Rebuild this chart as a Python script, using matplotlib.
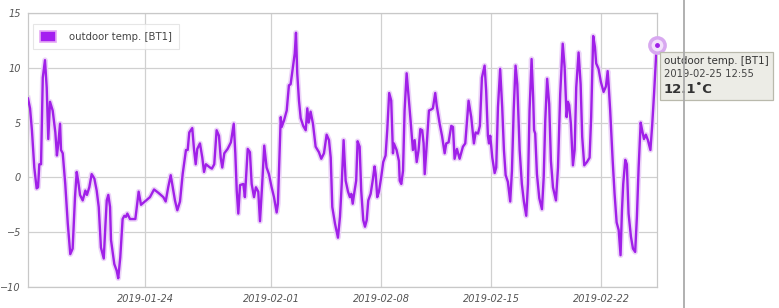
import matplotlib
matplotlib.use("Agg")
import matplotlib.pyplot as plt
import matplotlib.dates as mdates
import numpy as np
import pandas as pd
from matplotlib.lines import Line2D
from matplotlib.patches import Patch
from matplotlib.offsetbox import TextArea, VPacker, AnnotationBbox

# Outdoor temperature log (BT1)
start = "2019-01-16 12:55"
days = [0.00, 0.13, 0.25, 0.40, 0.55, 0.64, 0.72, 0.83, 0.94, 1.08,
        1.19, 1.29, 1.40, 1.57, 1.74, 1.84, 1.93, 2.04, 2.10, 2.21,
        2.37, 2.53, 2.69, 2.84, 2.99, 3.10, 3.20, 3.31, 3.48, 3.65,
        3.75, 3.90, 4.05, 4.22, 4.37, 4.50, 4.64, 4.82, 4.92, 5.01,
        5.11, 5.22, 5.28, 5.49, 5.64, 5.74, 5.87, 6.02, 6.13, 6.23,
        6.32, 6.49, 6.83, 7.04, 7.19, 7.76, 8.02, 8.29, 8.61, 8.76,
        8.92, 9.08, 9.21, 9.35, 9.50, 9.67, 9.84, 10.05, 10.16, 10.26,
        10.45, 10.56, 10.67, 10.77, 10.94, 11.09, 11.20, 11.32, 11.58, 11.70,
        11.85, 12.00, 12.15, 12.26, 12.36, 12.49, 12.70, 12.91, 13.09, 13.19,
        13.28, 13.38, 13.49, 13.70, 13.80, 13.98, 14.12, 14.23, 14.38, 14.50,
        14.65, 14.76, 14.90, 15.03, 15.18, 15.33, 15.50, 15.65, 15.82, 15.90,
        16.08, 16.14, 16.29, 16.46, 16.60, 16.71, 16.86, 16.97, 17.05, 17.13,
        17.24, 17.35, 17.51, 17.67, 17.77, 17.86, 17.98, 18.13, 18.30, 18.51,
        18.66, 18.83, 19.00, 19.15, 19.26, 19.36, 19.53, 19.72, 19.85, 19.96,
        20.08, 20.21, 20.36, 20.48, 20.57, 20.66, 20.78, 20.88, 20.97, 21.10,
        21.20, 21.33, 21.44, 21.55, 21.65, 21.80, 21.93, 22.05, 22.12, 22.22,
        22.33, 22.47, 22.60, 22.75, 22.86, 22.98, 23.11, 23.22, 23.28, 23.45,
        23.60, 23.65, 23.75, 23.86, 23.96, 24.09, 24.22, 24.34, 24.49, 24.60,
        24.73, 24.85, 24.96, 25.08, 25.17, 25.24, 25.36, 25.51, 25.66, 25.76,
        25.91, 26.00, 26.19, 26.34, 26.51, 26.61, 26.76, 26.93, 27.04, 27.14,
        27.29, 27.46, 27.67, 27.82, 27.95, 28.03, 28.20, 28.37, 28.48, 28.63,
        28.75, 28.88, 29.05, 29.15, 29.26, 29.33, 29.41, 29.54, 29.69, 29.79,
        29.90, 30.04, 30.17, 30.28, 30.39, 30.53, 30.68, 30.79, 30.90, 31.02,
        31.13, 31.28, 31.42, 31.55, 31.70, 31.81, 31.91, 32.04, 32.14, 32.20,
        32.27, 32.38, 32.53, 32.70, 32.81, 32.91, 33.03, 33.16, 33.27, 33.40,
        33.59, 33.72, 33.86, 34.02, 34.14, 34.27, 34.35, 34.43, 34.54, 34.67,
        34.78, 34.88, 35.03, 35.16, 35.26, 35.39, 35.56, 35.73, 35.83, 35.96,
        36.07, 36.15, 36.30, 36.45, 36.62, 36.77, 36.88, 36.94, 37.04, 37.20,
        37.32, 37.45, 37.58, 37.70, 37.79, 37.87, 38.00, 38.10, 38.21, 38.36,
        38.49, 38.63, 38.74, 38.85, 38.98, 39.06, 39.19, 39.31, 39.44, 39.60,
        39.71, 39.83, 40.00]
temps = [7.2, 6.3, 4.3, 0.9, -1.0, -0.9, 1.2, 1.2, 9.1, 10.7,
         8.2, 3.5, 6.9, 6.1, 4.1, 2.0, 3.1, 4.9, 2.5, 2.2,
         -0.6, -4.2, -7.0, -6.5, -1.8, 0.5, -0.4, -1.6, -2.1, -1.2,
         -1.6, -0.9, 0.3, -0.1, -1.2, -2.7, -6.4, -7.4, -4.5, -2.1,
         -1.6, -2.7, -5.7, -7.9, -8.5, -9.2, -7.3, -3.8, -3.5, -3.6,
         -3.3, -3.8, -3.8, -1.3, -2.5, -1.8, -1.1, -1.4, -1.8, -2.2,
         -0.9, 0.2, -0.9, -2.1, -3.0, -2.2, 0.3, 2.5, 2.5, 4.1,
         4.5, 2.6, 1.2, 2.6, 3.1, 1.8, 0.5, 1.2, 0.9, 0.8,
         1.2, 4.3, 3.8, 1.8, 0.9, 2.2, 2.6, 3.2, 4.9, 2.2,
         -1.2, -3.3, -0.7, -0.6, -1.8, 2.6, 2.3, -0.6, -1.8, -0.9,
         -1.3, -4.0, -0.6, 2.9, 0.9, 0.3, -0.9, -1.8, -3.2, -2.4,
         5.5, 4.6, 5.2, 6.1, 8.4, 8.5, 10.1, 11.3, 13.2, 9.5,
         7.0, 5.4, 4.7, 4.3, 6.3, 5.0, 6.0, 4.9, 2.8, 2.3,
         1.7, 2.2, 3.9, 3.4, 1.8, -2.7, -4.2, -5.5, -3.6, -0.6,
         3.4, -0.3, -1.3, -1.8, -1.5, -2.4, -1.2, -0.3, 3.3, 2.8,
         -1.2, -3.9, -4.5, -3.9, -2.1, -1.5, -0.3, 1.0, 0.3, -1.8,
         -1.3, 0.0, 1.4, 2.0, 4.4, 7.7, 7.0, 2.2, 3.1, 2.5,
         1.5, -0.3, -0.6, 0.6, 6.1, 9.5, 7.3, 5.2, 2.5, 3.4,
         1.4, 2.5, 4.4, 4.3, 3.1, 0.3, 2.8, 6.1, 6.2, 6.3,
         7.7, 6.6, 4.9, 3.8, 2.2, 3.1, 3.2, 4.7, 4.6, 1.7,
         2.6, 1.7, 2.8, 3.1, 5.5, 7.0, 5.5, 3.1, 4.1, 4.0,
         4.7, 9.1, 10.2, 7.9, 3.8, 3.1, 3.8, 1.8, 0.4, 0.9,
         6.4, 9.9, 6.4, 2.5, 0.2, -0.4, -2.2, 0.6, 6.1, 10.2,
         8.5, 2.5, -0.6, -2.2, -3.5, -0.6, 6.1, 10.8, 7.3, 4.3,
         4.0, 0.3, -1.9, -2.9, 0.0, 5.2, 9.0, 6.7, 1.5, -0.9,
         -2.1, 0.9, 7.6, 12.2, 10.1, 5.5, 6.9, 6.6, 4.9, 1.1,
         2.5, 8.2, 11.4, 8.5, 3.7, 1.1, 1.4, 1.8, 5.5, 12.9,
         11.9, 10.4, 9.9, 8.7, 7.8, 8.3, 9.7, 8.5, 6.1, 1.5,
         -1.5, -4.1, -4.8, -7.1, -3.0, -0.6, 1.6, 1.2, -3.3, -5.4,
         -6.5, -6.8, -3.6, 0.9, 5.0, 4.4, 3.5, 3.9, 3.4, 2.5,
         4.7, 7.6, 12.1]

tick_dates = ["2019-01-24", "2019-02-01", "2019-02-08", "2019-02-15", "2019-02-22"]
y_ticks = [-10, -5, 0, 5, 10, 15]
series_name = "outdoor temp. [BT1]"
hover_time = "2019-02-25 12:55"

t0 = pd.Timestamp(start)
times = [t0 + pd.Timedelta(days=d) for d in days]

line_col = "#a020e8"
grid_col = "#d0d0d0"
text_col = "#555555"

fig = plt.figure(figsize=(7.79, 3.08), dpi=100)
ax = fig.add_axes([28 / 779, 1 - 287 / 308, (656.7 - 28) / 779, (287 - 13) / 308])

# soft halo under the line, then the line itself
ax.plot(times, temps, color="#ecd4f8", lw=4.0, solid_joinstyle="round", zorder=2)
ax.plot(times, temps, color=line_col, lw=1.7, solid_joinstyle="round", zorder=3)

# hovered point
ax.plot(times[-1], temps[-1], "o", ms=11, mfc="#f3e2fb", mec="#d8a8f0", mew=2.5,
        zorder=4, clip_on=False)
ax.plot(times[-1], temps[-1], "o", ms=2.5, color=line_col, zorder=5, clip_on=False)

ax.set_xlim(t0, times[-1])
ax.set_ylim(-10, 15)
ax.set_yticks(y_ticks)
ax.set_xticks([pd.Timestamp(d) for d in tick_dates])
ax.xaxis.set_major_formatter(mdates.DateFormatter("%Y-%m-%d"))
ax.grid(True, color=grid_col, lw=0.9)
ax.set_axisbelow(True)
ax.tick_params(length=0, labelsize=7, labelcolor=text_col, pad=5)
for lab in ax.get_xticklabels() + ax.get_yticklabels():
    lab.set_fontstyle("italic")
for s in ax.spines.values():
    s.set_color("#c8c8c8")
    s.set_linewidth(0.9)

leg = ax.legend(handles=[Patch(facecolor="#a41ff0", edgecolor="#e5a8f5", lw=1.2, label=series_name)],
                loc="upper left", bbox_to_anchor=(0.0, 0.978), fontsize=7.3,
                frameon=True, fancybox=False, handlelength=1.6, handleheight=1.2,
                handletextpad=1.2, borderpad=0.7, labelcolor="#444444")
leg.get_frame().set_edgecolor("#e0e0e0")
leg.get_frame().set_linewidth(0.8)

# tooltip box next to the last value
tip = VPacker(children=[
    TextArea(series_name, textprops=dict(size=7.4, color="#333333")),
    TextArea(hover_time, textprops=dict(size=7.2, color="#444444")),
    TextArea(f"{temps[-1]:.1f}\u02daC", textprops=dict(size=9.5, color="#333333", weight="bold")),
], align="left", pad=0, sep=2.5)
ab = AnnotationBbox(tip, (times[-1], temps[-1]), xybox=(5.3, -8.0), xycoords="data",
                    boxcoords="offset points", box_alignment=(0, 1), frameon=True,
                    pad=0.3, annotation_clip=False,
                    bboxprops=dict(boxstyle="square,pad=0.3", fc="#ecece6", ec="#b9b9ac", lw=0.9))
ab.set_zorder(6)
ax.add_artist(ab)

# page separator on the right
fig.add_artist(Line2D([684 / 779, 684 / 779], [0, 1], transform=fig.transFigure,
                      color="#aaaaaa", lw=1.3))

fig.savefig("out.png", dpi=100)
